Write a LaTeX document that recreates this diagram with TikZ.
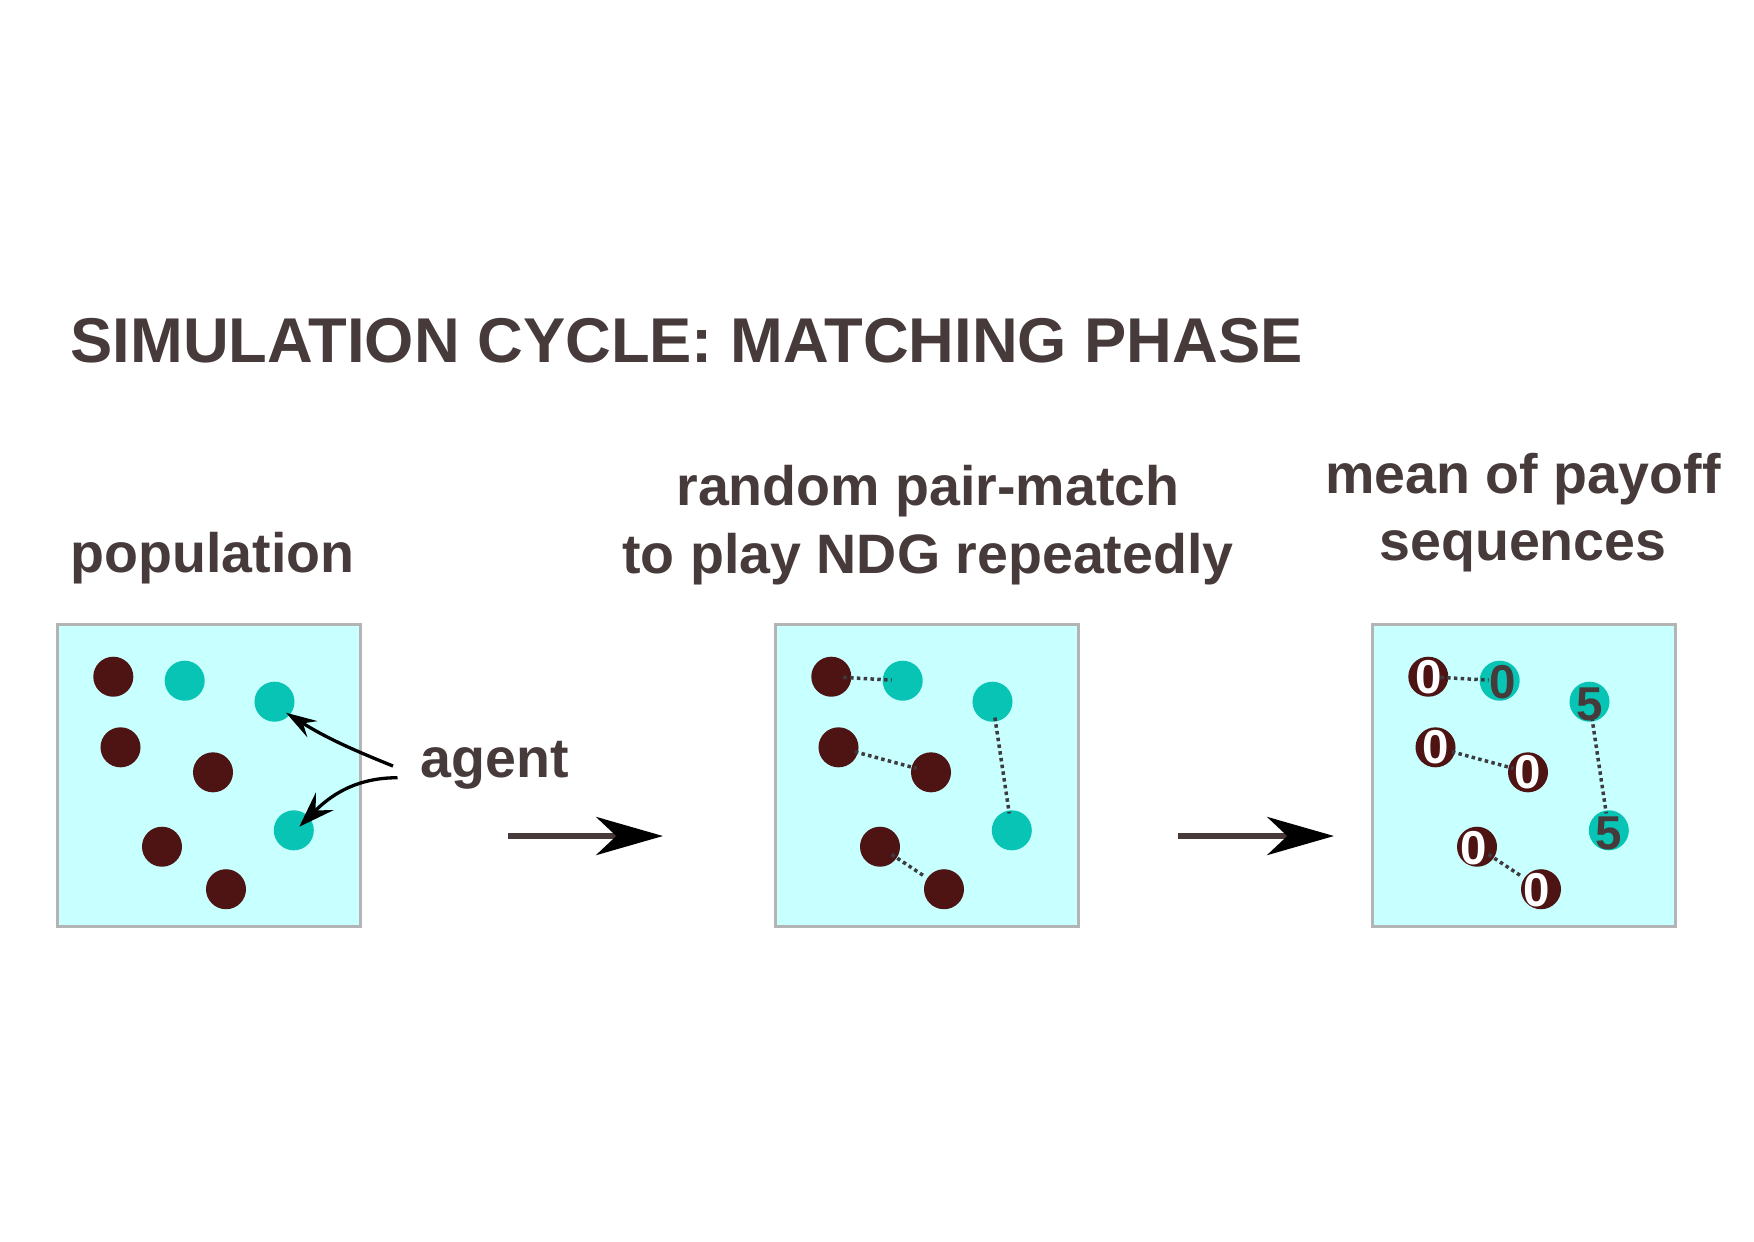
\documentclass[tikz,border=0pt]{standalone}
\usepackage{fontspec}
\setmainfont{Liberation Sans}
\usetikzlibrary{arrows.meta}
\definecolor{txtc}{RGB}{70,58,58}
\definecolor{brownc}{RGB}{78,20,20}
\definecolor{tealc}{RGB}{8,196,181}
\definecolor{cellfill}{RGB}{200,255,255}
\definecolor{cellborder}{RGB}{180,180,180}
\definecolor{dotc}{RGB}{60,60,64}
\begin{document}
\begin{tikzpicture}[x=0.01cm,y=-0.01cm,
  titletext/.style={font=\fontsize{18}{21.6}\selectfont\bfseries, text=txtc, inner sep=0, anchor=base west},
  labeltext/.style={font=\fontsize{15.8}{19}\selectfont\bfseries, text=txtc, inner sep=0, anchor=base},
  cellbox/.style={draw=cellborder, fill=cellfill, line width=0.03cm, minimum width=3.02cm, minimum height=3.01cm, inner sep=0},
  brownag/.style={circle, fill=brownc, minimum size=0.4cm, inner sep=0},
  tealag/.style={circle, fill=tealc, minimum size=0.4cm, inner sep=0},
  pairline/.style={draw=dotc, line width=0.035cm, dash pattern=on 0.035cm off 0.033cm},
  digitw/.style={font=\fontsize{13.5}{14}\selectfont\bfseries, text=white, inner sep=0},
  digitd/.style={font=\fontsize{13.5}{14}\selectfont\bfseries, text=txtc, inner sep=0},
  flowarrow/.style={draw=txtc, line width=0.065cm, -{Stealth[length=6.67mm,width=3.8mm,inset=2mm,color=black]}},
  pointer/.style={draw=black, line width=0.033cm}
]
\useasboundingbox (0,0) rectangle (1754,1241);

% titles and labels
\node[titletext] (title) at (70,362) {SIMULATION CYCLE: MATCHING PHASE};
\node[labeltext, anchor=base west] (lpop) at (70,572) {population};
\node[labeltext] (lrand1) at (928,505) {random pair-match};
\node[labeltext] (lrand2) at (928,573) {to play NDG repeatedly};
\node[labeltext] (lmean1) at (1523,493.5) {mean of payoff};
\node[labeltext] (lmean2) at (1523,560.5) {sequences};
\node[labeltext, anchor=base west] (lagent) at (420,777) {agent};

% boxes and agents
\foreach \L/\n in {58/p,776/q,1373/r}{
  \node[cellbox] (box-\n) at ({\L+151},775.5) {};
  \node[brownag] (\n-b1) at ({\L+55.3},676.7) {};
  \node[tealag]  (\n-t1) at ({\L+126.7},680.7) {};
  \node[tealag]  (\n-t2) at ({\L+216.5},701.7) {};
  \node[brownag] (\n-b2) at ({\L+62.5},747.3) {};
  \node[brownag] (\n-b3) at ({\L+155},772.3) {};
  \node[tealag]  (\n-t3) at ({\L+235.8},830.3) {};
  \node[brownag] (\n-b4) at ({\L+104},846.7) {};
  \node[brownag] (\n-b5) at ({\L+168},889.2) {};
}

% pair matches
\foreach \n in {q,r}{
  \draw[pairline, shorten <=0.12cm, shorten >=0.11cm] (\n-b1.center) -- (\n-t1.center);
  \draw[pairline, shorten <=0.17cm, shorten >=0.15cm] (\n-b2.center) -- (\n-b3.center);
  \draw[pairline, shorten <=0.16cm, shorten >=0.17cm] (\n-t2.center) -- (\n-t3.center);
  \draw[pairline, shorten <=0.14cm, shorten >=0.22cm] (\n-b4.center) -- (\n-b5.center);
}

% payoffs
\node[digitw] (d1) at (r-b1) {0};
\node[digitd] (d2) at ([shift={(2.5,1)}]r-t1.center) {0};
\node[digitd] (d3) at ([shift={(0,3)}]r-t2.center) {5};
\node[digitw] (d4) at (r-b2) {0};
\node[digitw] (d5) at (r-b3) {0};
\node[digitd] (d6) at ([shift={(0,3)}]r-t3.center) {5};
\node[digitw] (d7) at ([shift={(-3,1)}]r-b4.center) {0};
\node[digitw] (d8) at ([shift={(-4,1)}]r-b5.center) {0};

% agent pointers
\coordinate (ag1) at (393,766);
\coordinate (ag2) at (397.5,777.7);
\draw[pointer, -{Stealth[length=3.1mm,width=1.9mm,inset=1.1mm]}] (ag1) to[out=158,in=-32] ([shift={(11.5,11)}]p-t2.center);
\draw[pointer, -{Stealth[length=3.6mm,width=2.5mm,inset=1.3mm]}] (ag2) to[out=180,in=45] ([shift={(5.5,-3.6)}]p-t3.center);

% flow arrows
\coordinate (f1s) at (508,836);
\coordinate (f1e) at (663,836);
\coordinate (f2s) at (1178,836);
\coordinate (f2e) at (1334,836);
\draw[flowarrow] (f1s) -- (f1e);
\draw[flowarrow] (f2s) -- (f2e);
\end{tikzpicture}
\end{document}
